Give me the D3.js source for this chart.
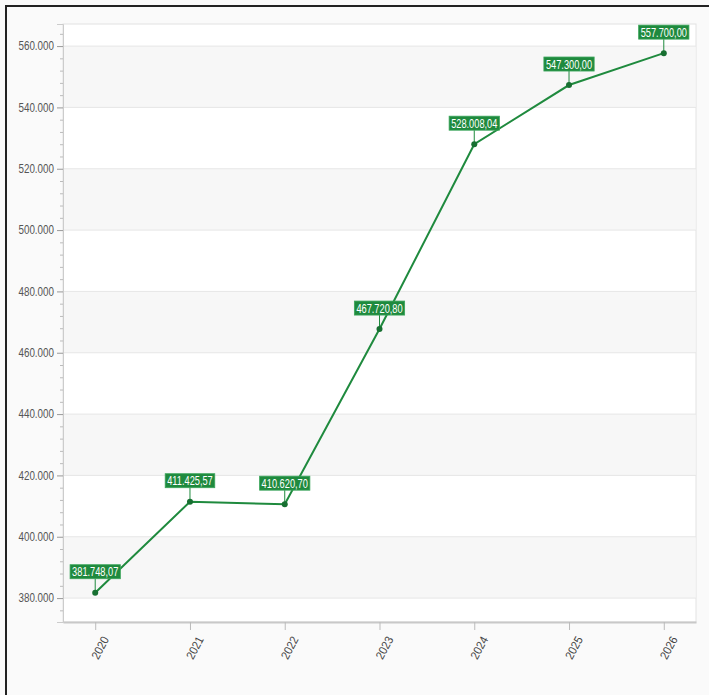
<!DOCTYPE html>
<html>
<head>
<meta charset="utf-8">
<script src="https://cdn.jsdelivr.net/npm/d3@7"></script>
<style>
  body { margin: 0; background: #fafafa; }
  svg { display: block; }
</style>
</head>
<body>
<div id="chart"></div>
<script>
const years = ['2020', '2021', '2022', '2023', '2024', '2025', '2026'];
const values = [381748.07, 411425.57, 410620.70, 467720.80, 528008.04, 547300.00, 557700.00];
const yTicks = [380000, 400000, 420000, 440000, 460000, 480000, 500000, 520000, 540000, 560000];

const W = 709, H = 695;
const PLOT = { LEFT: 63, RIGHT: 696, TOP: 24, BOTTOM: 622 };
const FONT = '"Liberation Sans Narrow", "Arial Narrow", "Liberation Sans", sans-serif';
const GREEN = '#1f8a3e';
const SQUEEZE = 0.74; // labels in the source are strongly condensed

const svg = d3.select('#chart').append('svg')
  .attr('width', W)
  .attr('height', H);

svg.append('rect').attr('width', W).attr('height', H).attr('fill', '#fafafa');

// outer frame (left + top)
svg.append('path')
  .attr('d', `M6,${H} V6 H${W}`)
  .attr('fill', 'none')
  .attr('stroke', '#222')
  .attr('stroke-width', 2);

const x = d3.scalePoint()
  .domain(years)
  .range([PLOT.LEFT, PLOT.RIGHT])
  .padding(0.34);

const y = d3.scaleLinear()
  .domain([372200, 567200])
  .range([PLOT.BOTTOM, PLOT.TOP]);

const de = d3.formatLocale({ decimal: ',', thousands: '.', grouping: [3], currency: ['', ' €'] });
const fmtAxis = de.format(',.0f');
const fmtLabel = de.format(',.2f');

// plot background
svg.append('rect')
  .attr('x', PLOT.LEFT).attr('y', PLOT.TOP)
  .attr('width', PLOT.RIGHT - PLOT.LEFT)
  .attr('height', PLOT.BOTTOM - PLOT.TOP)
  .attr('fill', '#fff')
  .attr('stroke', '#e2e2e2');

// alternating bands
const bands = yTicks.filter((d, i) => i % 2 === 0);
svg.append('g').selectAll('rect')
  .data(bands)
  .enter().append('rect')
    .attr('x', PLOT.LEFT + 0.5)
    .attr('width', PLOT.RIGHT - PLOT.LEFT - 1)
    .attr('y', d => y(d + 20000))
    .attr('height', d => y(d) - y(d + 20000))
    .attr('fill', '#f7f7f7');

// grid lines
svg.append('g').selectAll('line')
  .data(yTicks)
  .enter().append('line')
    .attr('x1', PLOT.LEFT).attr('x2', PLOT.RIGHT)
    .attr('y1', d => y(d)).attr('y2', d => y(d))
    .attr('stroke', '#e6e6e6');

// y axis with minor ticks
const minor = d3.range(372000, 567200, 4000).filter(d => d >= y.domain()[0] && d % 20000 !== 0);
svg.append('g')
  .attr('transform', `translate(${PLOT.LEFT},0)`)
  .call(d3.axisLeft(y).tickValues(minor).tickSize(3).tickFormat(''))
  .call(g => g.select('.domain').remove())
  .call(g => g.selectAll('line').attr('stroke', '#bbb'));

const yAxis = svg.append('g')
  .attr('transform', `translate(${PLOT.LEFT},0)`)
  .call(d3.axisLeft(y).tickValues(yTicks).tickSize(6).tickPadding(3).tickFormat(fmtAxis));
yAxis.select('.domain').attr('stroke', '#ccc');
yAxis.selectAll('line').attr('stroke', '#999');
yAxis.selectAll('text')
  .attr('font-family', FONT)
  .attr('font-size', 12)
  .attr('fill', '#555')
  .attr('x', 0)
  .attr('transform', 'translate(-9,0) scale(0.82,1)');

// x axis
const xAxis = svg.append('g')
  .attr('transform', `translate(0,${PLOT.BOTTOM})`)
  .call(d3.axisBottom(x).tickSize(8).tickSizeOuter(0));
xAxis.select('.domain').attr('stroke', '#c8c8c8').attr('stroke-width', 2);
xAxis.selectAll('line').attr('stroke', '#bbb');
xAxis.selectAll('text')
  .attr('font-family', FONT)
  .attr('font-size', 12)
  .attr('fill', '#444')
  .attr('text-anchor', 'end')
  .attr('dy', 0)
  .attr('transform', 'translate(4,12) rotate(-62) scale(0.9,1)');

// line
const line = d3.line()
  .x((d, i) => x(years[i]))
  .y(d => y(d));

svg.append('path')
  .datum(values)
  .attr('d', line)
  .attr('fill', 'none')
  .attr('stroke', GREEN)
  .attr('stroke-width', 2);

// points + labels
const pts = svg.append('g').selectAll('g')
  .data(values)
  .enter().append('g')
    .attr('transform', (d, i) => `translate(${x(years[i])},${y(d)})`);

pts.append('line')
  .attr('y1', 0).attr('y2', -14)
  .attr('stroke', GREEN)
  .attr('stroke-width', 1);

pts.append('circle')
  .attr('r', 3)
  .attr('fill', '#176f31');

const labels = pts.append('g').attr('transform', 'translate(0,-21)');
labels.append('text')
  .attr('text-anchor', 'middle')
  .attr('dy', '0.36em')
  .attr('font-family', FONT)
  .attr('font-size', 12.5)
  .attr('fill', '#fff')
  .attr('transform', `scale(${SQUEEZE},1)`)
  .text(d => fmtLabel(d));

labels.each(function () {
  const t = d3.select(this).select('text');
  const w = t.node().getComputedTextLength() * SQUEEZE;
  d3.select(this).insert('rect', 'text')
    .attr('x', -w / 2 - 2)
    .attr('y', -7)
    .attr('width', w + 4)
    .attr('height', 14)
    .attr('fill', GREEN)
    .attr('stroke', '#3aa55a')
    .attr('stroke-width', 0.8);
});
</script>
</body>
</html>
